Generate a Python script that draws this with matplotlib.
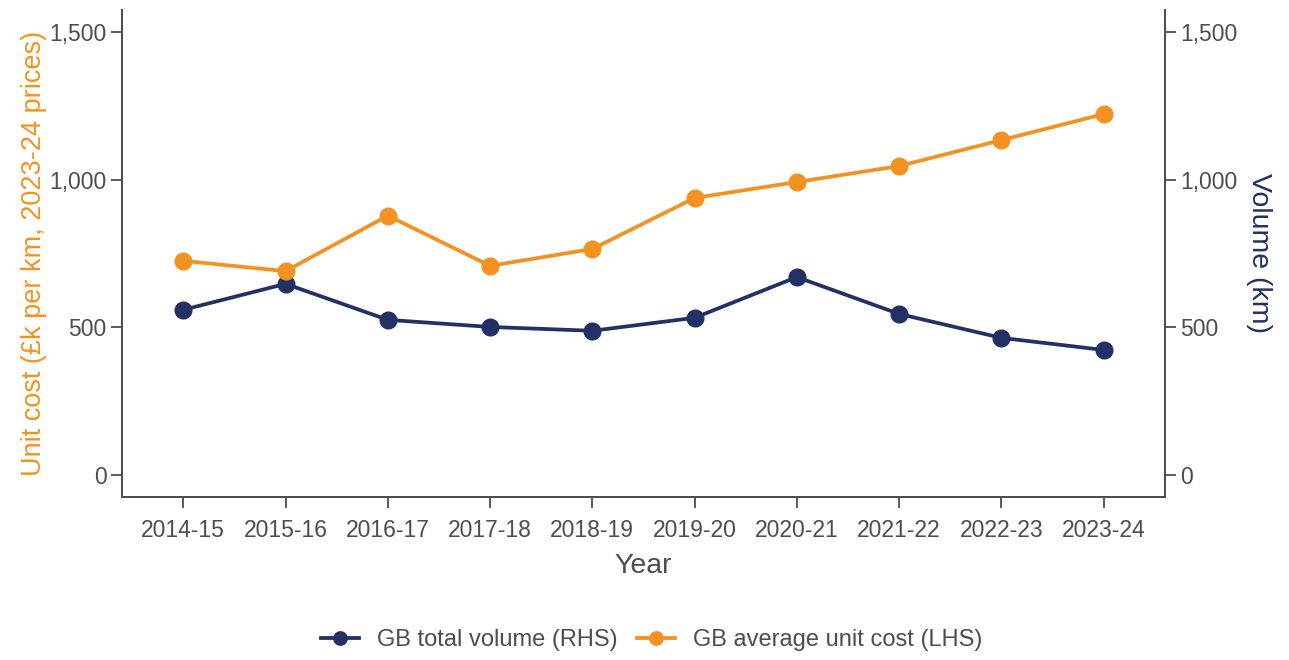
import numpy as np
import matplotlib
matplotlib.use("Agg")
import matplotlib.pyplot as plt
from matplotlib.ticker import FuncFormatter

plt.rcParams['font.family'] = ['Liberation Sans', 'DejaVu Sans']

# Data
years = ['2014-15', '2015-16', '2016-17', '2017-18', '2018-19',
         '2019-20', '2020-21', '2021-22', '2022-23', '2023-24']
unit_cost = [725, 690, 878, 708, 765, 938, 992, 1046, 1134, 1222]   # LHS, £k per km
volume = [559, 647, 525, 501, 488, 532, 670, 545, 464, 423]          # RHS, km

orange = '#F39220'
navy = '#233065'
grey = '#4D4D4D'

fig = plt.figure(figsize=(12.89, 6.6), dpi=100)
ax = fig.add_axes([0.0946, 0.247, 0.8092, 0.738])
ax2 = ax.twinx()

x = np.arange(len(years))
l_vol, = ax2.plot(x, volume, color=navy, lw=2.7, marker='o', ms=12,
                  label='GB total volume (RHS)', zorder=3)
l_cost, = ax.plot(x, unit_cost, color=orange, lw=2.7, marker='o', ms=12,
                  label='GB average unit cost (LHS)', zorder=3)

fmt = FuncFormatter(lambda v, p: f'{int(v):,}')
for a in (ax, ax2):
    a.set_ylim(-75, 1575)
    a.set_yticks([0, 500, 1000, 1500])
    a.yaxis.set_major_formatter(fmt)
    a.tick_params(axis='both', colors=grey, labelcolor=grey, labelsize=16.5,
                  length=8, width=1.3, pad=3)
    for s in a.spines.values():
        s.set_color(grey)
        s.set_linewidth(1.3)
    a.spines['top'].set_visible(False)

ax.set_xlim(-0.6, 9.6)
ax.set_xticks(x)
ax.set_xticklabels(years)
ax.tick_params(axis='x', pad=8)
ax.set_xlabel('Year', color=grey, fontsize=20.5, labelpad=8)
ax.set_ylabel('Unit cost (£k per km, 2023-24 prices)', color=orange, fontsize=19.5, labelpad=2)
ax2.set_ylabel('Volume (km)', color=navy, fontsize=20.5, rotation=270, labelpad=6, va='bottom')

# keep the orange line drawn above the navy one
ax.set_zorder(ax2.get_zorder() + 1)
ax.patch.set_visible(False)

fig.legend(handles=[l_vol, l_cost], loc='center', bbox_to_anchor=(0.5055, 0.03),
           ncol=2, frameon=False, fontsize=17, labelcolor=grey,
           handlelength=1.6, handletextpad=0.75, columnspacing=0.85, markerscale=0.8)

fig.savefig('out.png', dpi=100)
